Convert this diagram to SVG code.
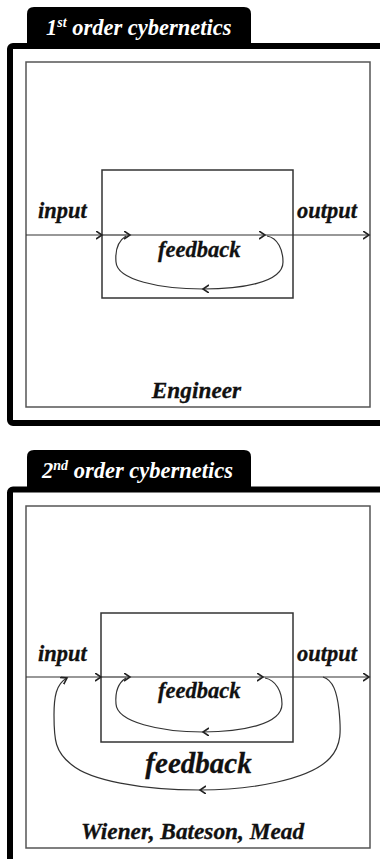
<svg xmlns="http://www.w3.org/2000/svg" width="380" height="859" viewBox="0 0 380 859">
<style>
.frame{fill:none;stroke:#000;stroke-width:6}
.tab{fill:#000}
.tabtxt{font-family:'Liberation Serif','DejaVu Serif',serif;font-weight:bold;font-style:italic;font-size:22.5px;fill:#fff}
.sup{font-size:14px}
.inner{fill:#fff;stroke:#555;stroke-width:1.5}
.box{fill:none;stroke:#333;stroke-width:1.5}
.lbl{font-family:'Liberation Serif','DejaVu Serif',serif;font-weight:bold;font-style:italic;font-size:22.5px;fill:#111;stroke:#111;stroke-width:0.3}
.big{font-size:29px}
.sig{font-size:23.3px}
.line{fill:none;stroke:#333;stroke-width:1.2}
</style>
<defs>
<marker id="chev" markerWidth="10" markerHeight="10" refX="6" refY="4" orient="auto" markerUnits="userSpaceOnUse">
<path d="M0,0 L6,4 L0,8" fill="none" stroke="#222" stroke-width="1.6"/>
</marker>
</defs>

<!-- Panel 1 -->
<g id="panel1">
<rect class="inner" x="26" y="62" width="344" height="345"/>
<rect class="frame" x="10" y="46" width="400" height="377" rx="3"/>
<path class="tab" d="M27,48 V14 Q27,7 34,7 H244 Q251,7 251,14 V48 Z"/>
<text class="tabtxt" x="46" y="35">1<tspan class="sup" dy="-8">st</tspan><tspan dy="8"> order cybernetics</tspan></text>
</g>
<g id="system1">
<rect class="box" x="102" y="170" width="191" height="128"/>
</g>
<g id="labels1">
<text class="lbl" x="38" y="218">input</text>
<text class="lbl" x="297" y="218">output</text>
<text class="lbl" x="158" y="257">feedback</text>
<text class="lbl sig" x="196.5" y="398" text-anchor="middle">Engineer</text>
</g>
<g id="connectors1">
<path class="line" d="M26,235 H102" marker-end="url(#chev)"/>
<path class="line" d="M102,235 H130" marker-end="url(#chev)"/>
<path class="line" d="M130,235 H265" marker-end="url(#chev)"/>
<path class="line" d="M265,235 H369" marker-end="url(#chev)"/>
<path class="line" d="M267,236 C278,238 283,250 283,262 C283,283 240,289 203,289" marker-end="url(#chev)"/>
<path class="line" d="M203,289 C160,289 117,280 116,262 C115,250 118,241 126,236"/>
</g>

<!-- Panel 2 -->
<g id="panel2">
<rect class="inner" x="26" y="506" width="344" height="342"/>
<rect class="frame" x="10" y="489.5" width="400" height="400" rx="3"/>
<path class="tab" d="M27,491 V457 Q27,450 34,450 H244 Q251,450 251,457 V491 Z"/>
<text class="tabtxt" x="42" y="478">2<tspan class="sup" dy="-8">nd</tspan><tspan dy="8"> order cybernetics</tspan></text>
</g>
<g id="system2">
<rect class="box" x="101" y="613" width="192" height="129"/>
</g>
<g id="labels2">
<text class="lbl" x="38" y="661">input</text>
<text class="lbl" x="297" y="661">output</text>
<text class="lbl" x="158" y="698">feedback</text>
<text class="lbl big" x="198.5" y="773" text-anchor="middle">feedback</text>
<text class="lbl sig" x="192.5" y="839" text-anchor="middle">Wiener, Bateson, Mead</text>
</g>
<g id="connectors2">
<path class="line" d="M26,677 H101" marker-end="url(#chev)"/>
<path class="line" d="M101,677 H130" marker-end="url(#chev)"/>
<path class="line" d="M130,677 H263" marker-end="url(#chev)"/>
<path class="line" d="M263,677 H369" marker-end="url(#chev)"/>
<path class="line" d="M265,678 C276,680 282,692 282,704 C282,725 240,732 203,732" marker-end="url(#chev)"/>
<path class="line" d="M203,732 C160,732 117,722 116,704 C115,692 118,683 126,678"/>
<path class="line" d="M323,677 C333,680 337,692 339,710 C341,730 342,745 330,758 C310,780 250,790 200,790" marker-end="url(#chev)"/>
<path class="line" d="M200,790 C140,790 90,780 72,765 C55,752 54,740 54,715 C54,697 56,684 67,678" marker-end="url(#chev)"/>
</g>
</svg>
